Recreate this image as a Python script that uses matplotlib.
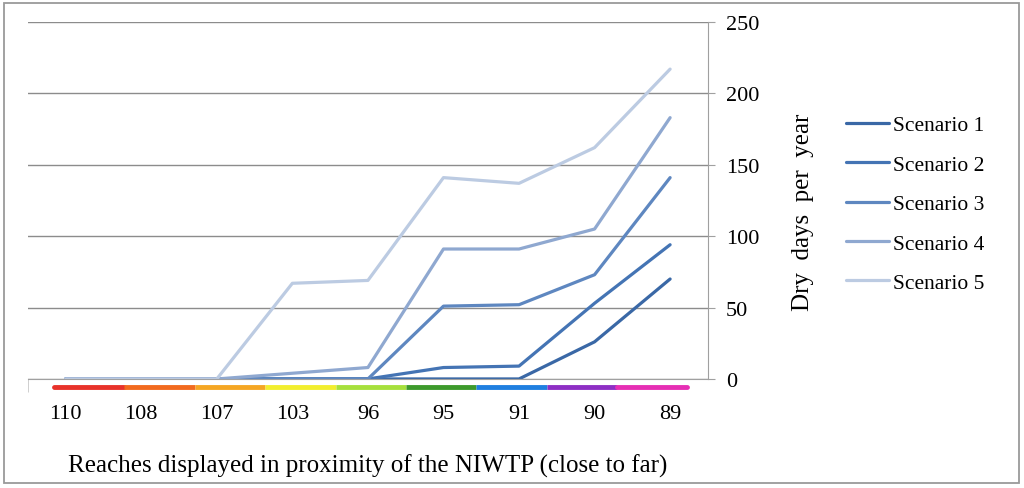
import matplotlib.pyplot as plt
from matplotlib.patches import Rectangle

reaches = ['110', '108', '107', '103', '96', '95', '91', '90', '89']
scenario_1 = [0, 0, 0, 0, 0, 0, 0, 26, 70]
scenario_2 = [0, 0, 0, 0, 0, 8, 9, 53, 94]
scenario_3 = [0, 0, 0, 0, 0, 51, 52, 73, 141]
scenario_4 = [0, 0, 0, 4, 8, 91, 91, 105, 183]
scenario_5 = [0, 0, 0, 67, 69, 141, 137, 162, 217]
series = [scenario_1, scenario_2, scenario_3, scenario_4, scenario_5]
names = ['Scenario 1', 'Scenario 2', 'Scenario 3', 'Scenario 4', 'Scenario 5']
colors = ['#3a68a6', '#4474b4', '#5e87c0', '#8fa8d0', '#bccbe2']
band_colors = ['#e8322a', '#f26a1e', '#f5a623', '#f2ee2e', '#a6e03c',
               '#3d9a2c', '#1f7fe0', '#8e2fc4', '#e62fb4']

plt.rcParams['font.family'] = ['Liberation Serif', 'DejaVu Serif']

fig = plt.figure(figsize=(10.24, 4.89), dpi=100)
fig.patches.append(Rectangle((0.004, 0.01), 0.991, 0.982,
                             transform=fig.transFigure, fill=False,
                             edgecolor='#9a9a9a', linewidth=1.3))

ax = fig.add_axes([0.0273, 0.223, 0.664, 0.730])
x = list(range(len(reaches)))
for vals, name, c in zip(series, names, colors):
    ax.plot(x, vals, color=c, lw=2.3, label=name, solid_capstyle='round')

ax.set_xlim(-0.5, 8.5)
ax.set_ylim(0, 250)
ax.set_yticks(range(0, 251, 50))
ax.yaxis.tick_right()
ax.yaxis.set_label_position('right')
ax.grid(axis='y', color='#8c8c8c', lw=1.0)
ax.set_axisbelow(True)
for s in ['top', 'left']:
    ax.spines[s].set_visible(False)
ax.spines['right'].set_color('#a0a0a0')
ax.spines['bottom'].set_color('#a0a0a0')
ax.tick_params(axis='y', length=5, color='#a0a0a0', labelsize=16, pad=8)
ax.tick_params(axis='x', length=0, labelsize=16, pad=18)
ax.set_xticks(x)
ax.set_xticklabels(reaches)
ax.set_xticks([-0.5], minor=True)
ax.tick_params(axis='x', which='minor', length=9, color='#c8c8c8')
ax.set_ylabel('Dry  days  per  year', fontsize=18, labelpad=22)
ax.yaxis.set_label_coords(1.124, 0.47)
ax.set_xlabel('Reaches displayed in proximity of the NIWTP (close to far)',
              fontsize=18, labelpad=22)

# rainbow band under the axis
left, right = -0.156, 8.23
w = (right - left) / len(band_colors)
for i, c in enumerate(band_colors):
    ax.plot([left + i * w, left + (i + 1) * w], [-5.5, -5.5], color=c, lw=3.5,
            solid_capstyle='round' if i in (0, len(band_colors) - 1) else 'butt',
            clip_on=False)

ax.legend(loc='center left', bbox_to_anchor=(1.175, 0.49), frameon=False,
          fontsize=15.5, handlelength=2.0, handletextpad=0.15, labelspacing=0.9)

fig.savefig('out.png', dpi=100)
